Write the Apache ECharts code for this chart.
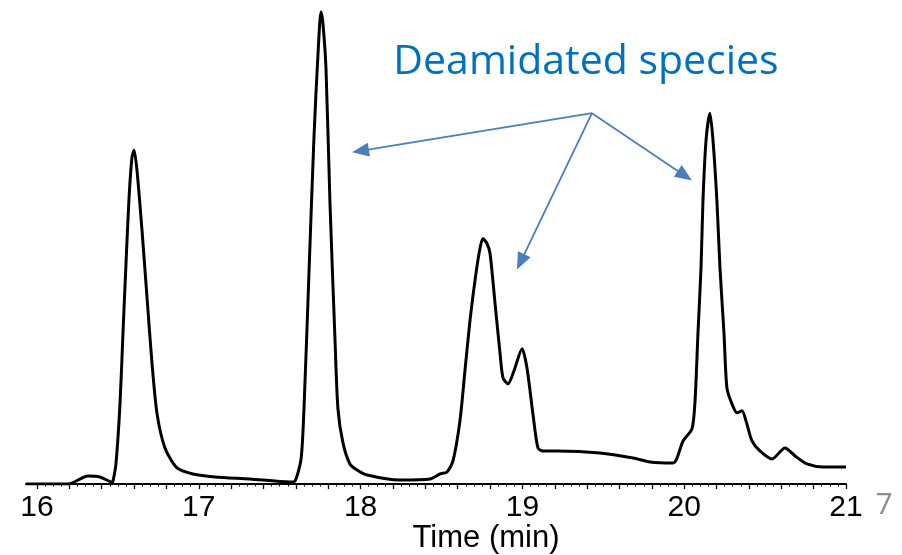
<!DOCTYPE html>
<html>
<head>
<meta charset="utf-8">
<script src="https://cdn.jsdelivr.net/npm/echarts@6/dist/echarts.min.js"></script>
<style>
html,body{margin:0;padding:0;background:#fff;}
#chart{width:902px;height:555px;}
</style>
</head>
<body>
<div id="chart"></div>
<script>
// Retention time (min)
const timeMin = [
  15.932, 16.192, 16.315, 16.389, 16.464, 16.470, 16.488, 16.513, 16.532, 16.550,
  16.569, 16.587, 16.600, 16.618, 16.649, 16.680, 16.711, 16.742, 16.791, 16.865,
  16.964, 17.100, 17.316, 17.564, 17.595, 17.632, 17.650, 17.681, 17.712, 17.737,
  17.755, 17.767, 17.786, 17.811, 17.842, 17.860, 17.891, 17.934, 17.978, 18.040,
  18.243, 18.429, 18.491, 18.534, 18.571, 18.614, 18.645, 18.676, 18.707, 18.732,
  18.756, 18.781, 18.800, 18.831, 18.862, 18.880, 18.911, 18.948, 18.998, 19.028,
  19.065, 19.096, 19.127, 19.220, 19.480, 19.684, 19.789, 19.931, 19.993, 20.048,
  20.067, 20.085, 20.104, 20.116, 20.135, 20.159, 20.178, 20.202, 20.221, 20.246,
  20.264, 20.295, 20.326, 20.357, 20.382, 20.419, 20.468, 20.543, 20.623, 20.685,
  20.759, 20.858, 21.000
];
// Detector response (arbitrary units)
const signal = [
  0, 0, 8, 7, 2, 3, 20, 80, 153, 220,
  286, 326, 333, 313, 253, 186, 120, 70, 36, 16,
  10, 7, 5, 2, 3, 25, 75, 211, 347, 430,
  471, 460, 415, 279, 143, 75, 41, 20, 14, 9,
  4, 5, 10, 12, 23, 63, 113, 163, 203, 230,
  245, 240, 230, 180, 130, 106, 100, 113, 135, 116,
  70, 36, 33, 33, 31, 26, 22, 21, 43, 55,
  83, 150, 216, 283, 343, 370, 343, 283, 216, 150,
  96, 80, 71, 73, 63, 43, 33, 25, 36, 28,
  20, 17, 17
];
const tickLabels = [16, 17, 18, 19, 20, 21];
const mediumTicks = [];
for (let i = 80; i <= 105; i++) mediumTicks.push(i / 5);
const minorTicks = [];
for (let i = 320; i <= 420; i++) minorTicks.push(i / 20);

const chart = echarts.init(document.getElementById('chart'), null, {renderer: 'canvas'});
const pts = timeMin.map((t, i) => [t, signal[i]]);
const arrowColor = '#4A7EBB';
const origin = {coord: [19.43, 370]};
const font = 'Liberation Sans, Arial, sans-serif';

chart.setOption({
  animation: false,
  backgroundColor: '#ffffff',
  grid: {left: 26, right: 56, top: 3, bottom: 71, containLabel: false, outerBoundsMode: 'none'},
  xAxis: [{
    type: 'value', min: 15.932, max: 21,
    axisLine: {show: true, lineStyle: {color: '#000', width: 2}},
    axisTick: {show: true, customValues: mediumTicks, length: 5, lineStyle: {color: '#000', width: 1.3}},
    axisLabel: {show: true, customValues: tickLabels, margin: 9, color: '#000', fontSize: 30,
      fontFamily: font},
    splitLine: {show: false},
    name: 'Time (min)', nameLocation: 'middle', nameGap: 39, nameMoveOverlap: false,
    nameTextStyle: {color: '#000', fontSize: 31, fontFamily: font,
      padding: [0, 0, 0, 100]}
  }, {
    type: 'value', min: 15.932, max: 21, position: 'bottom',
    axisLine: {show: false},
    axisTick: {show: true, customValues: minorTicks, length: 2.5, lineStyle: {color: '#000', width: 1}},
    axisLabel: {show: true, customValues: tickLabels, formatter: () => ''},
    splitLine: {show: false}
  }],
  yAxis: {type: 'value', min: 0, max: 480, show: false},
  series: [{
    type: 'line', data: pts, xAxisIndex: 0, showSymbol: false, smooth: 0.25,
    lineStyle: {color: '#000', width: 3}, silent: true,
    markLine: {
      silent: true, symbol: ['none', 'triangle'], symbolSize: [14, 17],
      lineStyle: {color: arrowColor, width: 1.8, type: 'solid'},
      label: {show: false},
      emphasis: {disabled: true},
      data: [
        [origin, {coord: [17.999, 332.4]}],
        [origin, {coord: [18.989, 221.7]}],
        [origin, {coord: [20.004, 307.7]}]
      ]
    }
  }],
  graphic: [{
    type: 'text', x: 586, y: 62,
    style: {text: 'Deamidated species', fill: '#0070C0', fontSize: 41,
      fontFamily: 'Open Sans, Noto Sans, sans-serif', align: 'center', verticalAlign: 'middle'}
  }, {
    type: 'text', x: 884, y: 505,
    style: {text: '7', fill: '#8C8C8C', fontSize: 30,
      fontFamily: 'Open Sans, Noto Sans, sans-serif', align: 'center', verticalAlign: 'middle'}
  }]
});
</script>
</body>
</html>
